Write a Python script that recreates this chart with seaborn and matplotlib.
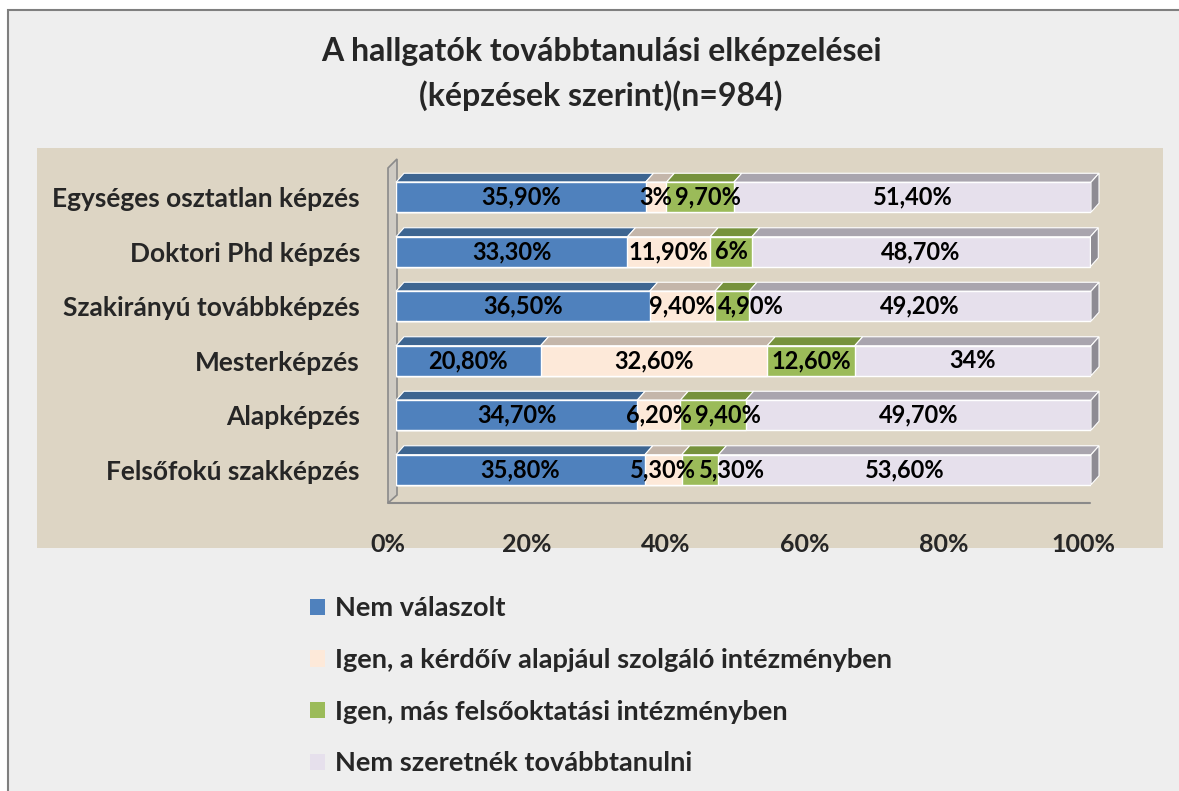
import pandas as pd
import numpy as np
import matplotlib
matplotlib.use("Agg")
import matplotlib.pyplot as plt
import matplotlib.transforms as mtransforms
from matplotlib.patches import Polygon, Rectangle
import seaborn as sns

# Adatok
kepzesek = ["Egységes osztatlan képzés", "Doktori Phd képzés", "Szakirányú továbbképzés",
            "Mesterképzés", "Alapképzés", "Felsőfokú szakképzés"]
sorozatok = ["Nem válaszolt", "Igen, a kérdőív alapjául szolgáló intézményben",
             "Igen, más felsőoktatási intézményben", "Nem szeretnék továbbtanulni"]
nem_valaszolt = [35.9, 33.3, 36.5, 20.8, 34.7, 35.8]
igen_sajat = [3.0, 11.9, 9.4, 32.6, 6.2, 5.3]
igen_mas = [9.7, 6.0, 4.9, 12.6, 9.4, 5.3]
nem_szeretne = [51.4, 48.7, 49.2, 34.0, 49.7, 53.6]
cimkek = [
    ["35,90%", "33,30%", "36,50%", "20,80%", "34,70%", "35,80%"],
    ["3%", "11,90%", "9,40%", "32,60%", "6,20%", "5,30%"],
    ["9,70%", "6%", "4,90%", "12,60%", "9,40%", "5,30%"],
    ["51,40%", "48,70%", "49,20%", "34%", "49,70%", "53,60%"],
]
x_ticks = [0, 20, 40, 60, 80, 100]
x_tick_labels = ["0%", "20%", "40%", "60%", "80%", "100%"]

szinek = ["#4f81bd", "#fde9d9", "#9bbb59", "#e6e0ec"]
teto_szinek = ["#3d6591", "#c4b6aa", "#76923c", "#a9a5ae"]

sns.set_theme(style="white")
plt.rcParams['font.family'] = ['Lato', 'DejaVu Sans']
plt.rcParams['font.weight'] = 'bold'

W, H = 1179, 791
fig = plt.figure(figsize=(W / 100, H / 100), dpi=100)
fig.patch.set_facecolor("white")

# pixel koordináták (bal felső sarok az origó)
px = mtransforms.Affine2D().scale(1 / W, -1 / H).translate(0, 1) + fig.transFigure

# háttér keretek
fig.patches.append(Rectangle((8, 10), W + 20, H + 20, transform=px, facecolor="#eeeeee",
                             edgecolor="#7f7f7f", linewidth=1.5, zorder=-10))
fig.patches.append(Rectangle((37, 148), 1126, 400, transform=px, facecolor="#ddd5c4",
                             edgecolor="none", zorder=-9))

# tengely
ax_l, ax_r, ax_t, ax_b = 396, 1091, 170, 497
ax = fig.add_axes([ax_l / W, 1 - ax_b / H, (ax_r - ax_l) / W, (ax_b - ax_t) / H])
ax.set_facecolor("none")

# fal és padló
fig.patches.append(Polygon([(388, 168), (397, 159), (397, 495), (388, 503)], closed=True,
                           transform=px, facecolor="#cfcbc3", edgecolor="#8a8a8a",
                           linewidth=1.2, zorder=-5))
fig.lines.append(plt.Line2D([388, 1090], [503, 503], transform=px, color="#8a8a8a",
                            linewidth=1.5, zorder=-5))

df = pd.DataFrame({"kepzes": kepzesek, sorozatok[0]: nem_valaszolt, sorozatok[1]: igen_sajat,
                   sorozatok[2]: igen_mas, sorozatok[3]: nem_szeretne})
ertekek = df[sorozatok].to_numpy()
kum = np.cumsum(ertekek, axis=1)
bal = kum - ertekek

bar_w = 0.55
for i in range(len(sorozatok) - 1, -1, -1):
    sns.barplot(x=kum[:, i], y=df["kepzes"], orient="h", color=szinek[i], width=bar_w,
                edgecolor="white", linewidth=1, saturation=1, ax=ax, zorder=3)

ax.set_xlim(0, 100)
ax.set_ylim(len(kepzesek) - 0.5, -0.5)

# 3D hatás: tetőlap és oldallap
px_per_x = (ax_r - ax_l) / 100
px_per_y = (ax_b - ax_t) / len(kepzesek)
dx = 8 / px_per_x
dy = 9 / px_per_y
feliratok = []
for r in range(len(kepzesek)):
    top = r - bar_w / 2
    bot = r + bar_w / 2
    for i in range(len(sorozatok)):
        x0, x1 = bal[r, i], kum[r, i]
        ax.add_patch(Polygon([(x0, top), (x1, top), (x1 + dx, top - dy), (x0 + dx, top - dy)],
                             closed=True, facecolor=teto_szinek[i], edgecolor="white",
                             linewidth=0.8, zorder=2, clip_on=False))
    x1 = kum[r, -1]
    ax.add_patch(Polygon([(x1, top), (x1 + dx, top - dy), (x1 + dx, bot - dy), (x1, bot)],
                         closed=True, facecolor="#8e8c93", edgecolor="white",
                         linewidth=0.8, zorder=2, clip_on=False))
    sor = []
    for i in range(len(sorozatok)):
        t = ax.text((bal[r, i] + kum[r, i]) / 2, r, cimkek[i][r], ha="center", va="center",
                    fontsize=17, fontweight="bold", color="black", zorder=5)
        sor.append(t)
    feliratok.append(sor)

ax.set_xticks(x_ticks)
ax.set_xticklabels(x_tick_labels, fontsize=18, fontweight="bold")
ax.tick_params(axis="x", length=0, pad=26)
ax.tick_params(axis="y", length=0, pad=26, labelsize=19)
for lab in ax.get_yticklabels():
    lab.set_fontweight("bold")
shift = mtransforms.ScaledTranslation(-8 / 100, 0, fig.dpi_scale_trans)
for lab in ax.get_xticklabels():
    lab.set_transform(lab.get_transform() + shift)
ax.set_xlabel("")
ax.set_ylabel("")
sns.despine(ax=ax, left=True, bottom=True)

# egymásra lógó értékcímkék széthúzása (mint az Excelben)
fig.canvas.draw()
renderer = fig.canvas.get_renderer()
for sor in feliratok:
    for k in range(1, len(sor)):
        elozo = sor[k - 1].get_window_extent(renderer)
        akt = sor[k].get_window_extent(renderer)
        atfedes = elozo.x1 + 3 - akt.x0
        if atfedes > 0:
            x_disp, y_disp = ax.transData.transform(sor[k].get_position())
            uj = ax.transData.inverted().transform((x_disp + atfedes, y_disp))
            sor[k].set_position((uj[0], sor[k].get_position()[1]))

fig.text(601 / W, 1 - 52 / H, "A hallgatók továbbtanulási elképzelései", ha="center",
         va="center", fontsize=23, fontweight="bold")
fig.text(601 / W, 1 - 96 / H, "(képzések szerint)(n=984)", ha="center", va="center",
         fontsize=23, fontweight="bold")

handles = [Rectangle((0, 0), 1, 1, facecolor=c, edgecolor="none") for c in szinek]
fig.legend(handles, sorozatok, loc="upper left", bbox_to_anchor=(286 / W, 1 - 572 / H),
           frameon=False, handlelength=0.55, handleheight=0.55, labelspacing=1.02,
           handletextpad=0.35, prop={"size": 19.5, "weight": "bold"})

fig.savefig("out.png", dpi=100, facecolor=fig.get_facecolor())
